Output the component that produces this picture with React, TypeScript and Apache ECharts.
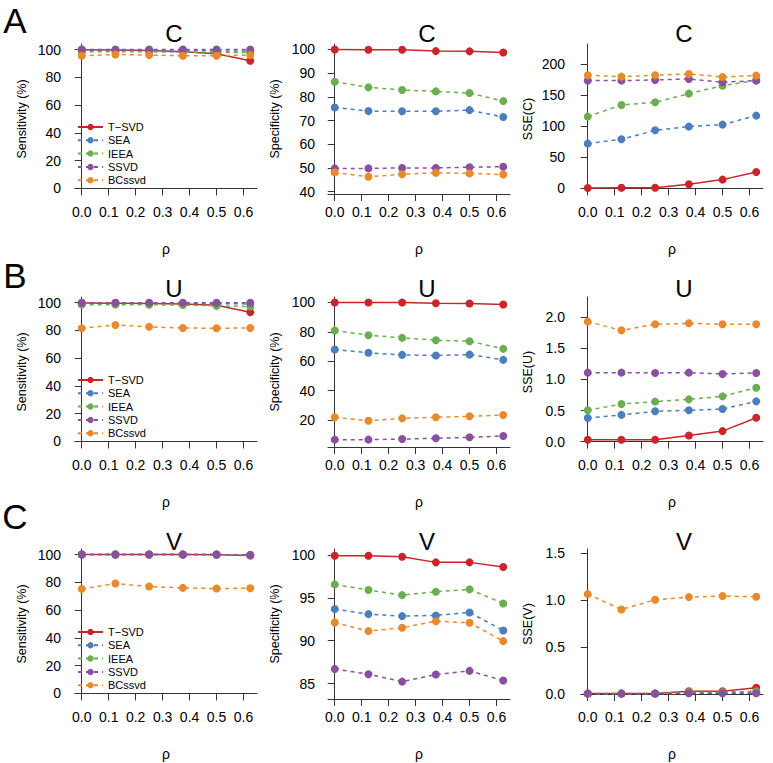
import React, { useEffect, useRef } from "react";
import * as echarts from "echarts";

// ---------- data ----------
const RHO = [0, 0.125, 0.25, 0.375, 0.5, 0.625];
const X_TICKS = [0, 0.1, 0.2, 0.3, 0.4, 0.5, 0.6];
const METHODS = ["T−SVD", "SEA", "IEEA", "SSVD", "BCssvd"];
const COLORS = ["#C9252B", "#4C7EBE", "#6AAE50", "#8A4F9E", "#E9892E"];

const ROW_TITLES = ["C", "U", "V"];
const ROW_LETTERS = ["A", "B", "C"];

// order of inner arrays: T-SVD, SEA, IEEA, SSVD, BCssvd
const sensC = [
  [99.8, 99.6, 99.3, 98.5, 97.0, 92.0],
  [99.5, 99.5, 99.3, 99.2, 99.0, 99.0],
  [98.5, 98.5, 98.3, 98.2, 98.0, 97.8],
  [100, 100, 100, 100, 100, 100],
  [95.5, 96.5, 96.0, 95.5, 95.5, 96.0],
];
const specC = [
  [100, 99.9, 99.9, 99.3, 99.2, 98.7],
  [75.5, 74.0, 73.9, 73.9, 74.4, 71.5],
  [86.4, 84.0, 82.9, 82.3, 81.6, 78.2],
  [49.8, 49.8, 50.0, 50.0, 50.3, 50.5],
  [48.1, 46.3, 47.3, 48.0, 47.7, 47.2],
];
const sseC = [
  [0.5, 0.8, 0.8, 6.5, 14, 26.3],
  [72, 79, 93.5, 99.5, 102.7, 117.2],
  [115.6, 134.4, 138.7, 152.7, 165.5, 174],
  [173.7, 173.7, 174.7, 176.3, 171, 173.7],
  [182.3, 180.1, 182.3, 184.4, 179.6, 181.7],
];
const sensU = [
  [99.6, 99.5, 99.3, 99.0, 98.0, 93.0],
  [99.5, 99.5, 99.5, 99.3, 99.2, 99.0],
  [98.5, 98.5, 98.4, 98.2, 97.6, 97.1],
  [99.9, 99.9, 99.9, 99.8, 99.8, 99.8],
  [81.5, 83.9, 82.5, 81.7, 81.5, 81.7],
];
const specU = [
  [100, 100, 100, 99.5, 99.3, 98.6],
  [68.0, 65.7, 64.3, 63.9, 64.5, 60.9],
  [80.9, 77.7, 75.9, 74.3, 73.6, 68.4],
  [6.6, 6.6, 7.0, 7.5, 8.2, 9.1],
  [21.8, 19.5, 21.1, 21.8, 22.5, 23.4],
];
const sseU = [
  [0.03, 0.03, 0.03, 0.1, 0.17, 0.385],
  [0.38, 0.43, 0.487, 0.503, 0.524, 0.647],
  [0.503, 0.604, 0.642, 0.679, 0.727, 0.866],
  [1.107, 1.107, 1.102, 1.107, 1.086, 1.102],
  [1.925, 1.786, 1.882, 1.898, 1.882, 1.882],
];
const sensV = [
  [100, 100, 100, 100, 99.8, 99.3],
  [100, 100, 100, 100, 100, 99.8],
  [100, 100, 100, 100, 100, 99.7],
  [100, 100, 100, 100, 100, 99.6],
  [75.3, 79.1, 77.0, 76.0, 75.5, 75.8],
];
const specV = [
  [99.92, 99.92, 99.8, 99.14, 99.14, 98.6],
  [93.69, 93.1, 92.87, 92.95, 93.3, 91.19],
  [96.57, 95.91, 95.32, 95.71, 95.99, 94.35],
  [86.71, 86.09, 85.23, 86.05, 86.48, 85.35],
  [92.13, 91.12, 91.51, 92.28, 92.09, 89.95],
];
const sseV = [
  [0.005, 0.005, 0.005, 0.03, 0.03, 0.067],
  [0.004, 0.004, 0.004, 0.01, 0.01, 0.012],
  [0.006, 0.006, 0.006, 0.02, 0.02, 0.03],
  [0.004, 0.004, 0.004, 0.008, 0.008, 0.008],
  [1.061, 0.898, 1.001, 1.029, 1.04, 1.033],
];

const ticksPct = [0, 20, 40, 60, 80, 100];
const ticksSpecC = [40, 50, 60, 70, 80, 90, 100];
const ticksSseC = [0, 50, 100, 150, 200];
const ticksSpecU = [20, 40, 60, 80, 100];
const ticksSseU = [0, 0.5, 1, 1.5, 2];
const ticksSpecV = [85, 90, 95, 100];
const ticksSseV = [0, 0.5, 1, 1.5];

// ---------- layout ----------
const FONT = "'Liberation Sans', Arial, Helvetica, sans-serif";
const COL_LEFT = [75, 328, 581];
const COL_LABEL_MARGIN = [14, 13, 16];
const COL_TITLE_X = [174, 427, 684];
const ROW_TOP = [44, 297, 549];
const ROW_TITLE_Y = [33, 288, 541.5];
const ROW_LETTER_Y = [20, 275, 516];
const GRID_W = 182;
const GRID_H = 150;

type Panel = {
  vals: number[][];
  yName: string;
  ticks: number[];
  min: number;
  max: number;
  dec: number;
};

const PANELS: Panel[] = [
  { vals: sensC, yName: "Sensitivity (%)", ticks: ticksPct, min: -4, max: 104, dec: 0 },
  { vals: specC, yName: "Specificity (%)", ticks: ticksSpecC, min: 39, max: 102.3, dec: 0 },
  { vals: sseC, yName: "SSE(C)", ticks: ticksSseC, min: -9.2, max: 232.7, dec: 0 },
  { vals: sensU, yName: "Sensitivity (%)", ticks: ticksPct, min: -4, max: 104, dec: 0 },
  { vals: specU, yName: "Specificity (%)", ticks: ticksSpecU, min: 1.6, max: 103.7, dec: 0 },
  { vals: sseU, yName: "SSE(U)", ticks: ticksSseU, min: -0.085, max: 2.32, dec: 1 },
  { vals: sensV, yName: "Sensitivity (%)", ticks: ticksPct, min: -4, max: 104, dec: 0 },
  { vals: specV, yName: "Specificity (%)", ticks: ticksSpecV, min: 83.2, max: 100.7, dec: 0 },
  { vals: sseV, yName: "SSE(V)", ticks: ticksSseV, min: -0.053, max: 1.54, dec: 1 },
];

function buildOption() {
  const grid: any[] = [];
  const xAxis: any[] = [];
  const yAxis: any[] = [];
  const series: any[] = [];
  const graphic: any[] = [];
  const legend: any[] = [];
  const axisColor = "#333";

  PANELS.forEach((p, idx) => {
    const r = Math.floor(idx / 3);
    const c = idx % 3;
    grid.push({ left: COL_LEFT[c], top: ROW_TOP[r], width: GRID_W, height: GRID_H });
    xAxis.push({
      gridIndex: idx,
      type: "value",
      min: -0.025,
      max: 0.65,
      name: "ρ",
      nameLocation: "middle",
      nameGap: 48,
      nameTextStyle: { fontSize: 14, fontFamily: FONT, color: "#000" },
      axisLine: { show: true, lineStyle: { color: axisColor, width: 1 } },
      axisTick: { show: true, customValues: X_TICKS, length: 7, lineStyle: { color: axisColor } },
      axisLabel: {
        customValues: X_TICKS,
        formatter: (v: number) => v.toFixed(1),
        fontSize: 14,
        fontFamily: FONT,
        color: "#000",
        margin: 11,
      },
      splitLine: { show: false },
    });
    yAxis.push({
      gridIndex: idx,
      type: "value",
      min: p.min,
      max: p.max,
      name: p.yName,
      nameLocation: "middle",
      nameGap: 47,
      nameRotate: 90,
      nameTextStyle: { fontSize: 12.5, fontFamily: FONT, color: "#000" },
      axisLine: { show: true, lineStyle: { color: axisColor, width: 1 } },
      axisTick: { show: true, customValues: p.ticks, length: 7, lineStyle: { color: axisColor } },
      axisLabel: {
        customValues: p.ticks,
        formatter: (v: number) => v.toFixed(p.dec),
        fontSize: 14,
        fontFamily: FONT,
        color: "#000",
        margin: COL_LABEL_MARGIN[c],
      },
      splitLine: { show: false },
    });
    p.vals.forEach((vals, m) => {
      series.push({
        type: "line",
        name: METHODS[m],
        xAxisIndex: idx,
        yAxisIndex: idx,
        data: RHO.map((x, i) => [x, vals[i]]),
        symbol: "circle",
        symbolSize: 8,
        showSymbol: true,
        lineStyle: { color: COLORS[m], width: 1.5, type: m === 0 ? "solid" : [4, 4] },
        itemStyle: { color: COLORS[m] },
        emphasis: { disabled: true },
      });
    });
    graphic.push({
      type: "text",
      x: COL_TITLE_X[c],
      y: ROW_TITLE_Y[r],
      style: {
        text: ROW_TITLES[r],
        fontSize: 24,
        fontFamily: FONT,
        fill: "#000",
        align: "center",
        verticalAlign: "middle",
        textAlign: "center",
        textVerticalAlign: "middle",
      },
    });
  });

  ROW_LETTERS.forEach((L, r) => {
    graphic.push({
      type: "text",
      x: 15,
      y: ROW_LETTER_Y[r],
      style: {
        text: L,
        fontSize: 35,
        fontFamily: FONT,
        fill: "#000",
        align: "center",
        verticalAlign: "middle",
        textAlign: "center",
        textVerticalAlign: "middle",
      },
    });
    legend.push({
      data: METHODS,
      orient: "vertical",
      left: 77,
      top: ROW_TOP[r] + 77.5,
      itemWidth: 25,
      itemHeight: 8,
      itemGap: 2.3,
      padding: 0,
      selectedMode: false,
      textStyle: { fontSize: 11, fontFamily: FONT, color: "#000" },
    });
  });

  return {
    animation: false,
    backgroundColor: "#fff",
    grid,
    xAxis,
    yAxis,
    series,
    legend,
    graphic,
  };
}

export default function App() {
  const ref = useRef<HTMLDivElement>(null);
  useEffect(() => {
    const chart = echarts.init(ref.current!, null, { renderer: "svg" });
    chart.setOption(buildOption() as any);
    return () => chart.dispose();
  }, []);
  return (
    <div
      ref={ref}
      style={{ position: "fixed", left: 0, top: 0, width: 773, height: 763 }}
    />
  );
}
